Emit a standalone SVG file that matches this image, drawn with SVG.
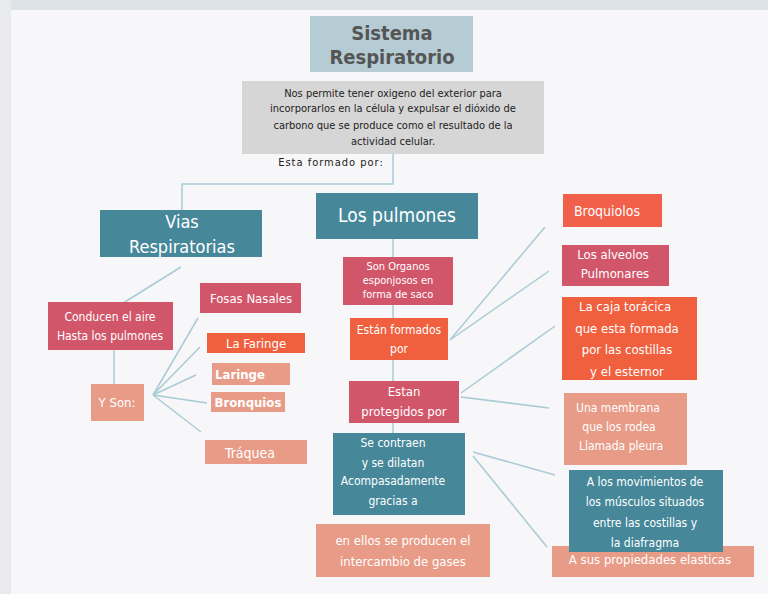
<svg xmlns="http://www.w3.org/2000/svg" width="768" height="594" viewBox="0 0 768 594">
<style>
text{font-family:"Liberation Sans Narrow","DejaVu Sans Condensed","Liberation Sans",sans-serif;text-anchor:middle;fill:#fff}
.d{fill:#222;font-size:11px}
.t{fill:#555;font-size:20px;font-weight:bold}
.teal{fill:#46889a}.rose{fill:#d2566a}.org{fill:#f05f3e}.pch{fill:#e89b87}
.c line,.c polyline{stroke:#a9cbd6;stroke-width:1.5;fill:none}
</style>
<rect width="768" height="594" fill="#f7f6f8"/>
<rect width="768" height="10" fill="#dde3e6"/>
<rect width="11" height="594" fill="#e9eaec"/>
<g class="c">
<polyline points="393,154 393,184 182,184 182,210"/>
<line x1="393" y1="239" x2="393" y2="433"/>
<line x1="181" y1="267" x2="120" y2="305"/>
<line x1="114" y1="350" x2="114" y2="384"/>
<line x1="153" y1="395" x2="198" y2="318"/>
<line x1="153" y1="395" x2="200" y2="347"/>
<line x1="153" y1="395" x2="196" y2="375"/>
<line x1="153" y1="395" x2="207" y2="403"/>
<line x1="153" y1="395" x2="201" y2="432"/>
<line x1="450" y1="340" x2="545" y2="227"/>
<line x1="450" y1="340" x2="549" y2="271"/>
<line x1="461" y1="393" x2="555" y2="326"/>
<line x1="461" y1="397" x2="549" y2="408"/>
<line x1="473" y1="452" x2="555" y2="475"/>
<line x1="473" y1="456" x2="547" y2="547"/>
</g>
<g id="sistema"><rect x="310" y="16" width="163" height="56" fill="#b5ccd5"/><text class="t" x="392" y="40">Sistema</text><text class="t" x="392" y="64">Respiratorio</text></g>
<g id="desc"><rect x="242" y="81" width="302" height="73" fill="#d6d6d6"/>
<text class="d" x="393" y="97">Nos permite tener oxigeno del exterior para</text>
<text class="d" x="393" y="112">incorporarlos en la célula y expulsar el dióxido de</text>
<text class="d" x="393" y="129">carbono que se produce como el resultado de la</text>
<text class="d" x="393" y="145">actividad celular.</text></g>
<text class="d" x="331" y="166" style="letter-spacing:1px">Esta formado por:</text>
<g id="vias"><rect class="teal" x="100" y="210" width="162" height="47"/><text x="182" y="228" font-size="18">Vias</text><text x="182" y="253" font-size="18">Respiratorias</text></g>
<g id="pulmones"><rect class="teal" x="316" y="193" width="162" height="46"/><text x="397" y="222" font-size="19">Los pulmones</text></g>
<g id="organos"><rect class="rose" x="343" y="257" width="110" height="48"/><text x="398" y="270" font-size="11">Son Organos</text><text x="398" y="284" font-size="11">esponjosos en</text><text x="398" y="298" font-size="11">forma de saco</text></g>
<g id="formados"><rect class="org" x="350" y="318" width="98" height="42"/><text x="399" y="334" font-size="12">Están formados</text><text x="399" y="353" font-size="12">por</text></g>
<g id="protegidos"><rect class="rose" x="349" y="381" width="110" height="42"/><text x="404" y="396" font-size="13">Estan</text><text x="404" y="416" font-size="13">protegidos por</text></g>
<g id="contraen"><rect class="teal" x="333" y="433" width="132" height="82"/><text x="393" y="447" font-size="12">Se contraen</text><text x="393" y="467" font-size="12">y se dilatan</text><text x="393" y="485" font-size="12">Acompasadamente</text><text x="393" y="505" font-size="12">gracias a</text></g>
<g id="gases"><rect class="pch" x="316" y="524" width="174" height="53"/><text x="403" y="545" font-size="13">en ellos se producen el</text><text x="403" y="566" font-size="13">intercambio de gases</text></g>
<g id="conducen"><rect class="rose" x="48" y="302" width="125" height="48"/><text x="110" y="321" font-size="12">Conducen el aire</text><text x="110" y="340" font-size="12">Hasta los pulmones</text></g>
<g id="yson"><rect class="pch" x="91" y="384" width="53" height="37"/><text x="117" y="407" font-size="13">Y Son:</text></g>
<g id="fosas"><rect class="rose" x="200" y="283" width="101" height="30"/><text x="251" y="303" font-size="13">Fosas Nasales</text></g>
<g id="faringe"><rect class="org" x="207" y="333" width="98" height="20"/><text x="256" y="348" font-size="13">La Faringe</text></g>
<g id="laringe"><rect class="pch" x="212" y="363" width="78" height="22"/><text x="240" y="379" font-size="13" font-weight="bold">Laringe</text></g>
<g id="bronquios"><rect class="pch" x="211" y="392" width="74" height="20"/><text x="248" y="407" font-size="13" font-weight="bold">Bronquios</text></g>
<g id="traquea"><rect class="pch" x="205" y="440" width="102" height="24"/><text x="250" y="458" font-size="14">Tráquea</text></g>
<g id="broquiolos"><rect fill="#f0604a" x="563" y="194" width="99" height="33"/><text x="607" y="216" font-size="14">Broquiolos</text></g>
<g id="alveolos"><rect class="rose" x="562" y="245" width="107" height="41"/><text x="613" y="259" font-size="13">Los alveolos</text><text x="615" y="278" font-size="13">Pulmonares</text></g>
<g id="caja"><rect class="org" x="562" y="297" width="135" height="83"/><text x="625" y="311" font-size="13">La caja  torácica</text><text x="627" y="333" font-size="13">que esta formada</text><text x="627" y="354" font-size="13">por  las costillas</text><text x="627" y="376" font-size="13">y el esternor</text></g>
<g id="membrana"><rect class="pch" x="564" y="393" width="123" height="72"/><text x="618" y="412" font-size="12">Una membrana</text><text x="619" y="431" font-size="12">que los rodea</text><text x="621" y="450" font-size="12">Llamada pleura</text></g>
<g id="propiedades"><rect class="pch" x="552" y="546" width="202" height="31"/><text x="650" y="564" font-size="13">A sus propiedades  elasticas</text></g>
<g id="movimientos"><rect class="teal" x="569" y="470" width="154" height="82"/><text x="645" y="486" font-size="12">A los movimientos de</text><text x="645" y="506" font-size="12">los músculos situados</text><text x="645" y="527" font-size="12">entre las costillas y</text><text x="645" y="547" font-size="12">la diafragma</text></g>
</svg>
